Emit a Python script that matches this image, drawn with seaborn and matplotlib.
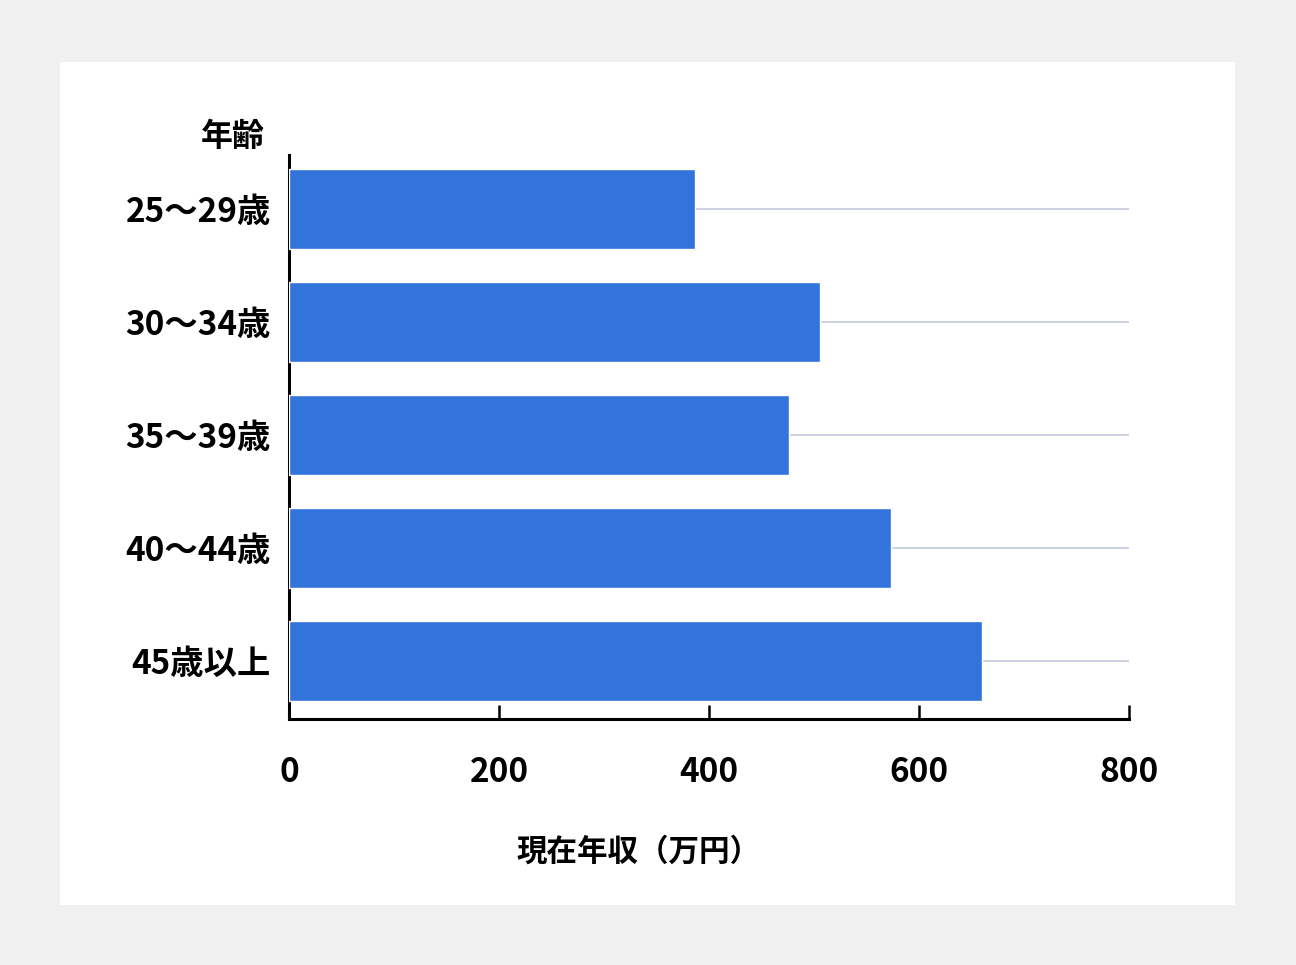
import numpy as np
import pandas as pd
import matplotlib
matplotlib.use('Agg')
import matplotlib.pyplot as plt
import seaborn as sns
from matplotlib.patches import Rectangle

# data
age_groups = ['25〜29歳', '30〜34歳', '35〜39歳', '40〜44歳', '45歳以上']
income = [387, 506, 476, 573, 660]
x_ticks = [0, 200, 400, 600, 800]

df = pd.DataFrame({'age': age_groups, 'income': income})

sns.set_style('white')
plt.rcParams['font.family'] = ['Noto Sans CJK JP', 'DejaVu Sans']
plt.rcParams['text.color'] = 'black'
plt.rcParams['xtick.color'] = 'black'
plt.rcParams['ytick.color'] = 'black'

fig = plt.figure(figsize=(12.96, 9.65), dpi=100)
fig.patch.set_facecolor('#f0f0f0')
# white card behind the chart
card = Rectangle((60 / 1296, 1 - 905 / 965), 1175 / 1296, 843 / 965,
                 transform=fig.transFigure, facecolor='white',
                 edgecolor='none', zorder=-10)
fig.patches.append(card)

ax = fig.add_axes([289 / 1296, 1 - 719 / 965, 840 / 1296, 564 / 965])
ax.set_facecolor('none')
ax.set_zorder(5)

sns.barplot(data=df, y='age', x='income', color='#3273dc', saturation=1,
            width=0.71, orient='h', ax=ax, zorder=3)

ax.set_xlim(0, 800)
ax.set_ylim(4.51, -0.48)
ax.set_xticks(x_ticks)
ax.set_xticklabels([str(v) for v in x_ticks], fontsize=24, fontweight='bold')
ax.set_yticks(range(len(age_groups)))
ax.set_yticklabels(age_groups, fontsize=24, fontweight='bold')

ax.grid(axis='y', color='#cdd2e2', linewidth=1.4, zorder=1)
ax.grid(axis='x', visible=False)
ax.set_axisbelow(True)

for s in ['top', 'right']:
    ax.spines[s].set_visible(False)
ax.spines['left'].set_linewidth(2.2)
ax.spines['bottom'].set_linewidth(2.2)
ax.spines['left'].set_color('black')
ax.spines['bottom'].set_color('black')

ax.tick_params(axis='x', bottom=True, direction='in', length=10, width=1.8,
               color='black', pad=27)
ax.tick_params(axis='y', left=False, length=0, pad=13)

ax.set_xlabel('')
ax.set_ylabel('')

fig.text(233 / 1296, 1 - 137 / 965, '年齢', fontsize=23, fontweight='bold',
         ha='center', va='center')
fig.text(638 / 1296, 1 - 852 / 965, '現在年収（万円）', fontsize=22, fontweight='bold',
         ha='center', va='center')

plt.savefig('out.png', dpi=100, facecolor=fig.get_facecolor())
